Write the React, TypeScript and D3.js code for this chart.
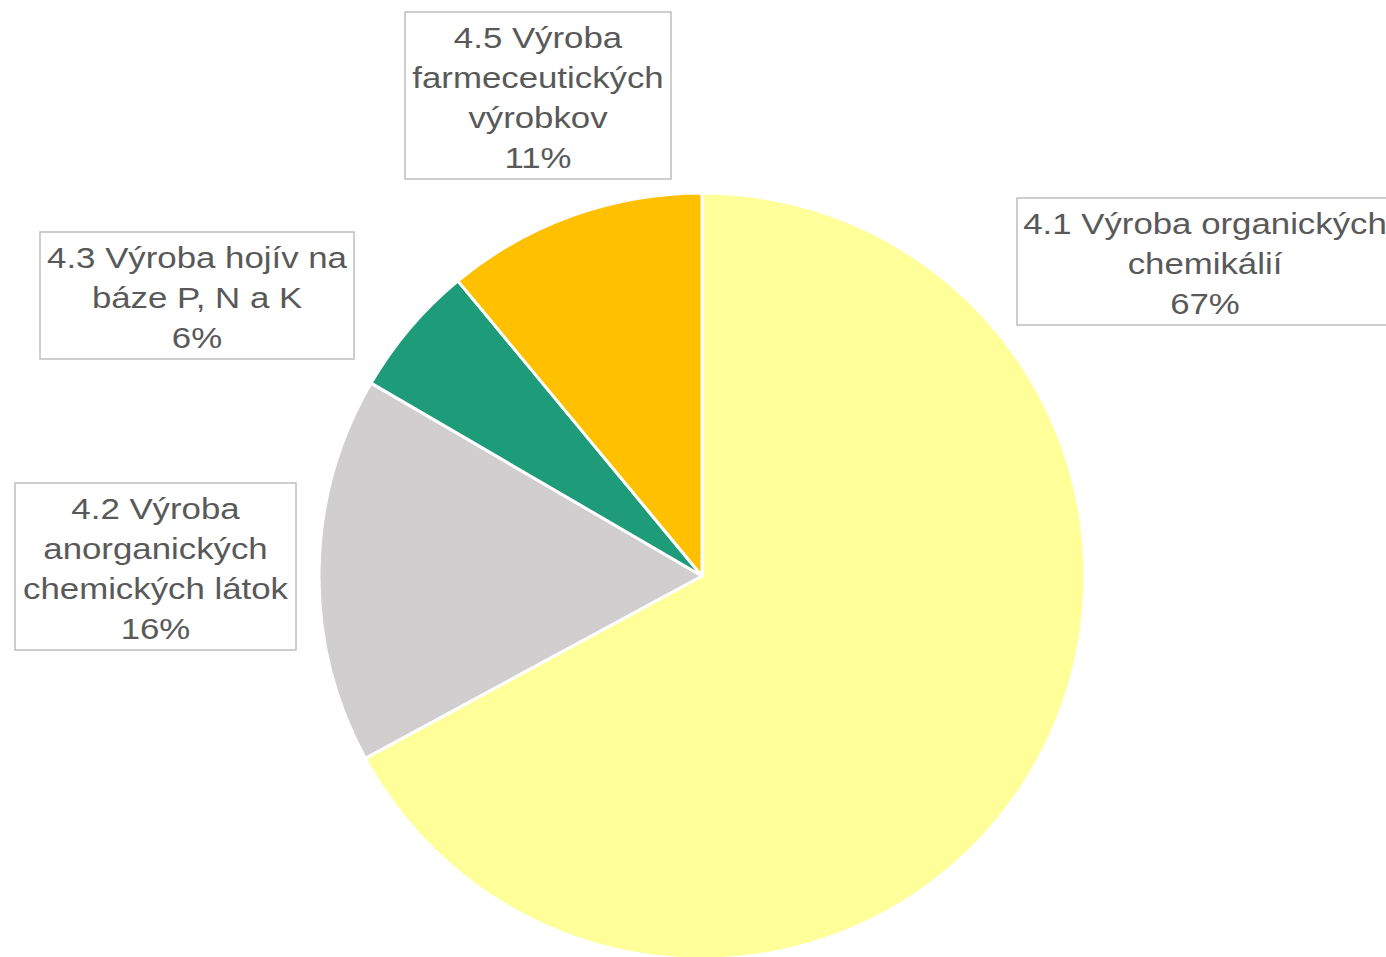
import React from "react";
import * as d3 from "d3";

const categories = [
  "4.1 Výroba organických chemikálií",
  "4.2 Výroba anorganických chemických látok",
  "4.3 Výroba hojív na báze P, N a K",
  "4.5 Výroba farmeceutických výrobkov",
];
const values = [67.1, 16.3, 5.6, 11.0];
const labelLines = [
  ["4.1 Výroba organických", "chemikálií"],
  ["4.2 Výroba", "anorganických", "chemických látok"],
  ["4.3 Výroba hojív na", "báze P, N a K"],
  ["4.5 Výroba", "farmeceutických", "výrobkov"],
];
const colors = ["#FFFF99", "#D0CECE", "#1E9B78", "#FFC000"];

// label box layout: center x, top y, width
const labelLayout = [
  { cx: 1205, top: 198, w: 376 },
  { cx: 155.5, top: 483, w: 281 },
  { cx: 197, top: 232, w: 314 },
  { cx: 538, top: 12, w: 266 },
];

const W = 1386;
const H = 957;
const CX = 702;
const CY = 576;
const R = 383;

export default function App() {
  const total = d3.sum(values);
  const pie = d3.pie<number>().sort(null).value((d) => d);
  const arcs = pie(values);
  const arc = d3.arc<d3.PieArcDatum<number>>().innerRadius(0).outerRadius(R);
  const fmt = d3.format(".0%");
  return (
    <svg
      width={W}
      height={H}
      style={{ position: "absolute", left: 0, top: 0, display: "block" }}
      fontFamily="'Liberation Sans', Arial, sans-serif"
    >
      <rect width={W} height={H} fill="#ffffff" />
      <g transform={`translate(${CX},${CY})`}>
        {arcs.map((a, i) => (
          <path
            key={categories[i]}
            d={arc(a) || ""}
            fill={colors[i]}
            stroke="#ffffff"
            strokeWidth={3}
            strokeLinejoin="round"
          />
        ))}
      </g>
      {labelLines.map((lines, i) => {
        const L = labelLayout[i];
        const all = [...lines, fmt(values[i] / total)];
        const h = all.length * 40 + 7;
        return (
          <g key={"lab" + i}>
            <rect
              x={L.cx - L.w / 2}
              y={L.top}
              width={L.w}
              height={h}
              fill="#ffffff"
              stroke="#BFBFBF"
              strokeWidth={1.5}
            />
            <g transform={`translate(${L.cx},0) scale(1.18,1)`}>
              <text textAnchor="middle" fill="#595959" fontSize={29.5}>
                {all.map((t, j) => (
                  <tspan key={j} x={0} y={L.top + 36 + j * 40}>
                    {t}
                  </tspan>
                ))}
              </text>
            </g>
          </g>
        );
      })}
    </svg>
  );
}
